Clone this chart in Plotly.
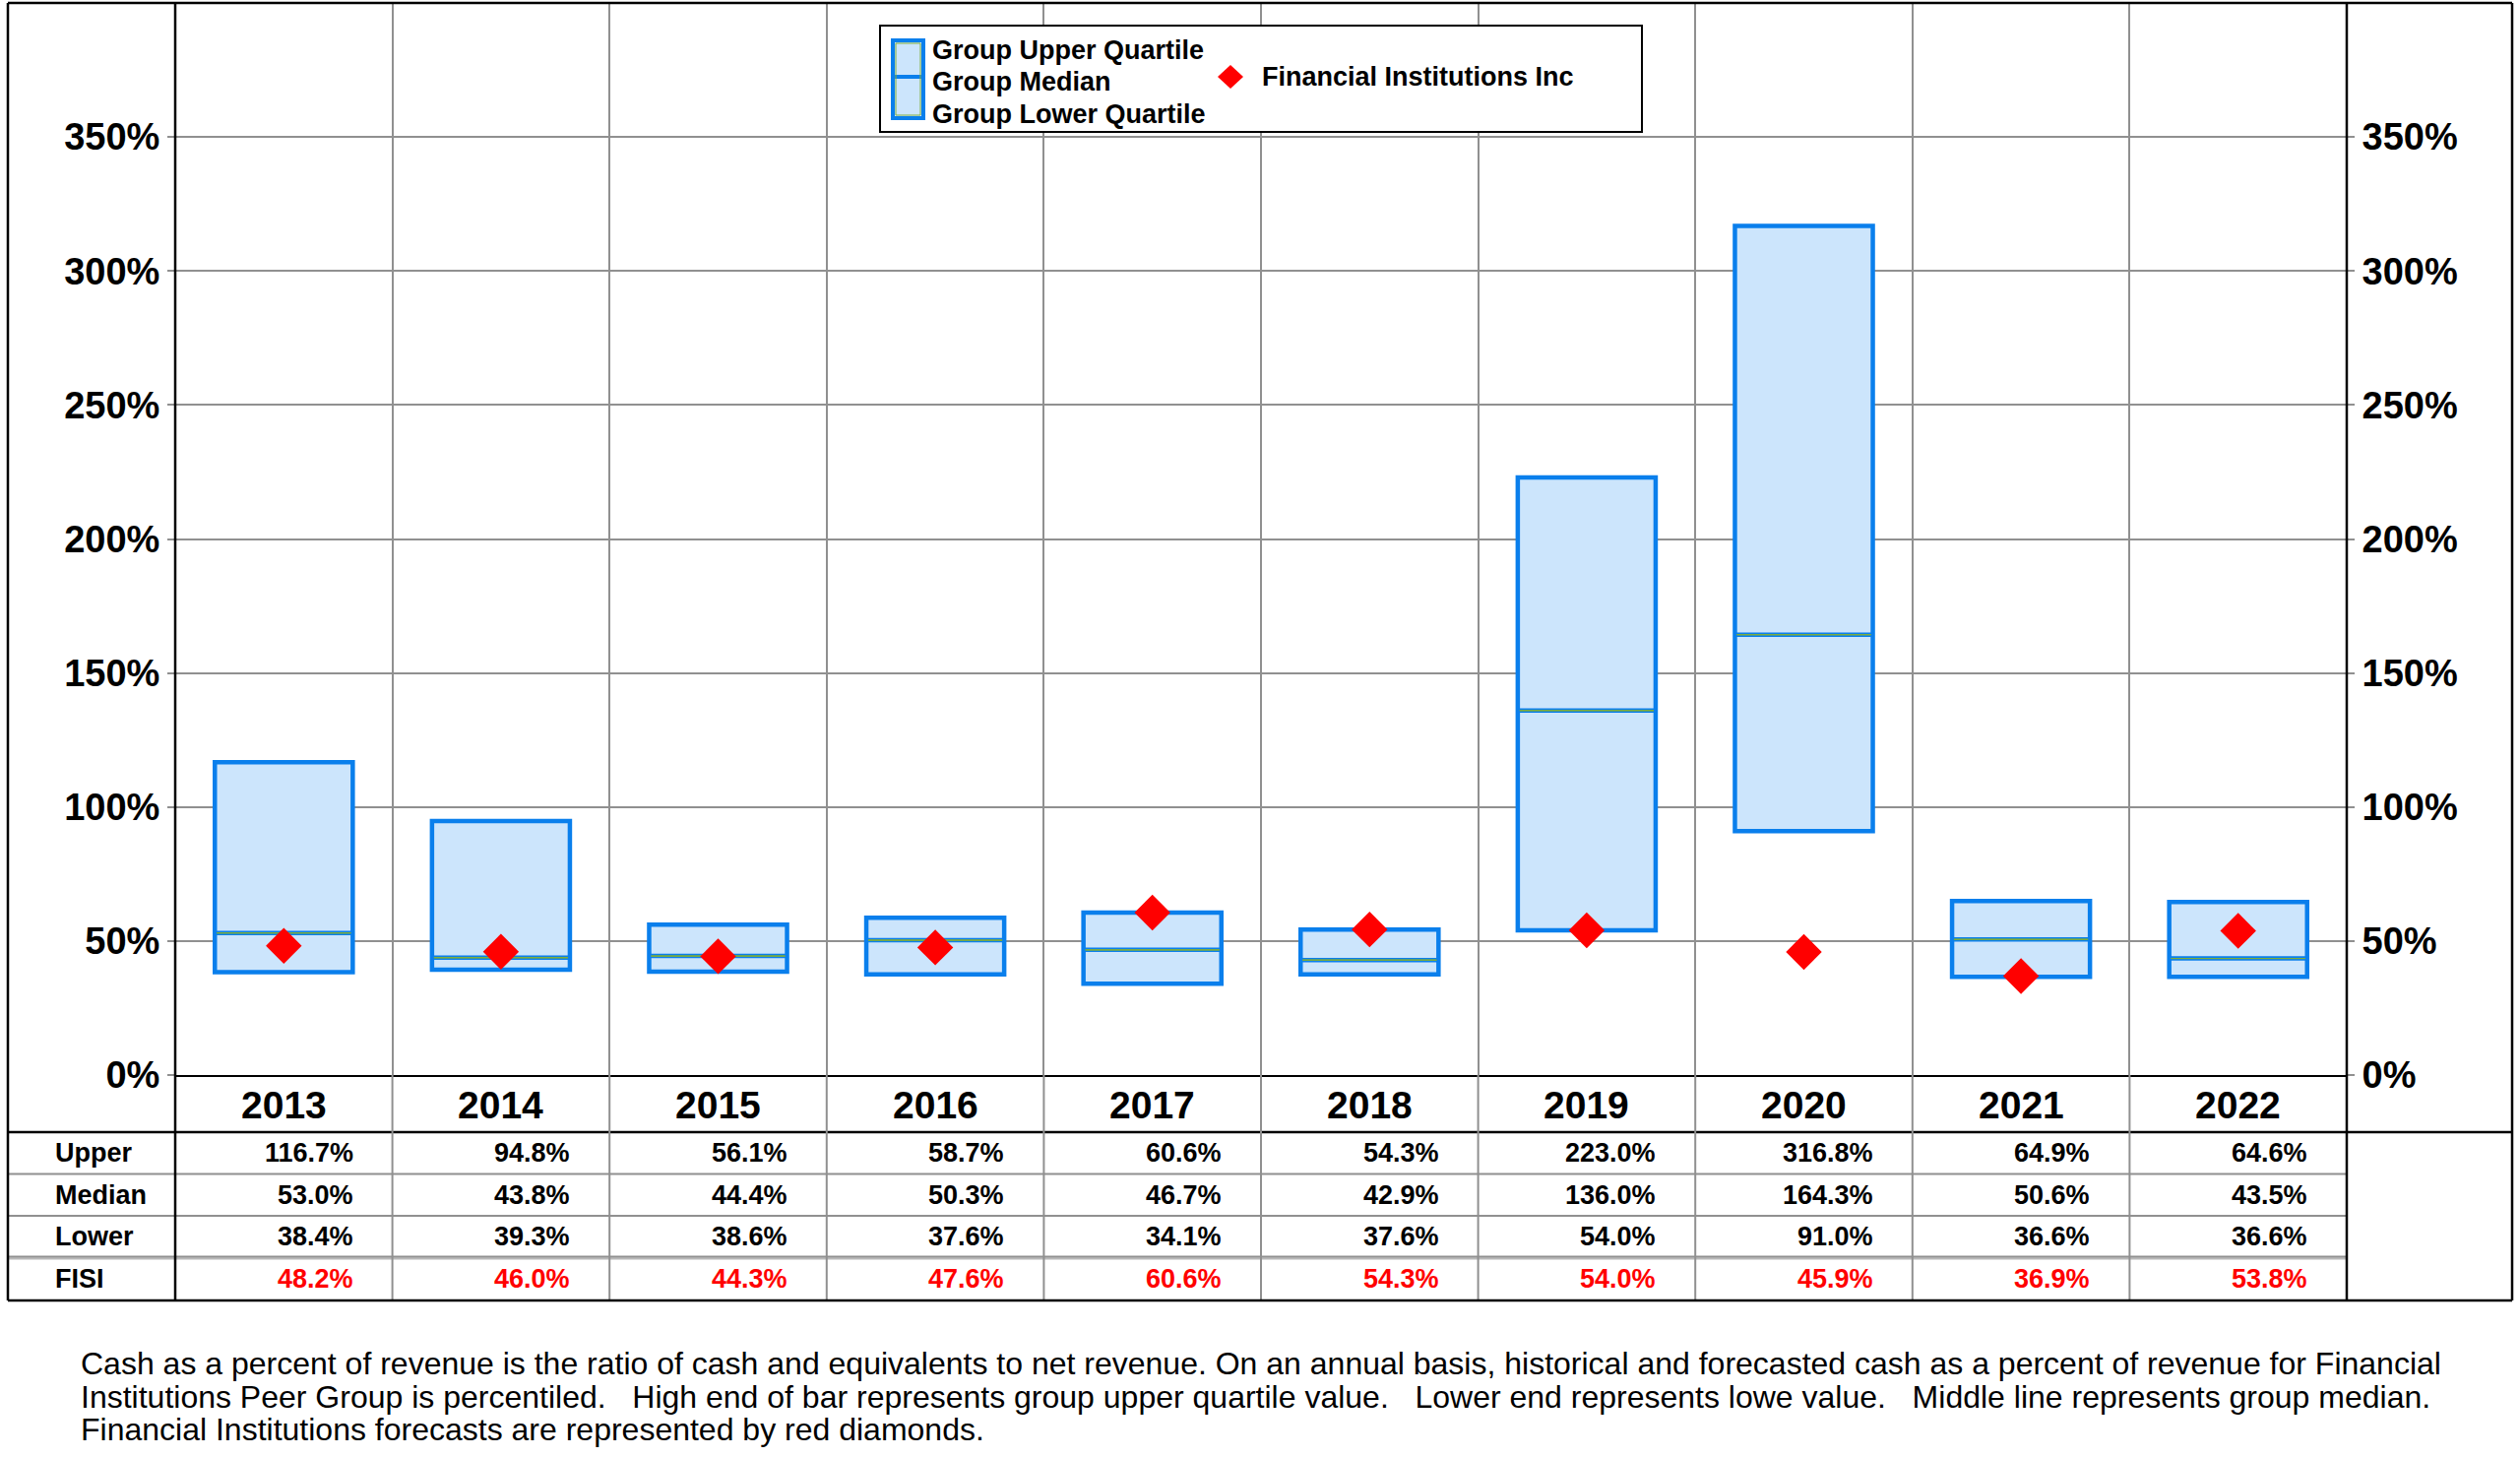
import plotly.graph_objects as go

# ---------------- data ----------------
years = ["2013", "2014", "2015", "2016", "2017", "2018", "2019", "2020", "2021", "2022"]
upper = [116.7, 94.8, 56.1, 58.7, 60.6, 54.3, 223.0, 316.8, 64.9, 64.6]
median = [53.0, 43.8, 44.4, 50.3, 46.7, 42.9, 136.0, 164.3, 50.6, 43.5]
lower = [38.4, 39.3, 38.6, 37.6, 34.1, 37.6, 54.0, 91.0, 36.6, 36.6]
fisi = [48.2, 46.0, 44.3, 47.6, 60.6, 54.3, 54.0, 45.9, 36.9, 53.8]
y_ticks = [0, 50, 100, 150, 200, 250, 300, 350]
y_tick_labels = ["0%", "50%", "100%", "150%", "200%", "250%", "300%", "350%"]
row_labels = ["Upper", "Median", "Lower", "FISI"]
legend_group_labels = ["Group Upper Quartile", "Group Median", "Group Lower Quartile"]
legend_company = "Financial Institutions Inc"
footnote_lines = [
    "Cash as a percent of revenue is the ratio of cash and equivalents to net revenue. On an annual basis, historical and forecasted cash as a percent of revenue for Financial",
    "Institutions Peer Group is percentiled.\u00a0\u00a0 High end of bar represents group upper quartile value.\u00a0\u00a0 Lower end represents lowe value.\u00a0\u00a0 Middle line represents group median.",
    "Financial Institutions forecasts are represented by red diamonds.",
]

# ---------------- geometry (pixels) ----------------
W, H = 2560, 1480
L, R, T, B = 178, 2384, 3, 1092
OUT_L, OUT_R = 8, 2552
HDR_BOT = 1150
ROW_EDGES = [1150, 1192.5, 1235, 1277.5, 1321]

FONT = "Liberation Sans, Arial, Helvetica, sans-serif"
BLUE = "#0a7fec"
FILL = "#cce5fc"
GREEN = "#7fae3a"
GRID = "#909090"


def px(x):
    return (x - L) / (R - L)


def py(y):
    return (B - y) / (B - T)


xs = list(range(len(years)))
col_px = (R - L) / len(years)

fig = go.Figure()

fig.add_trace(go.Box(
    x=xs, q1=lower, median=median, q3=upper,
    lowerfence=lower, upperfence=upper,
    width=0.635, whiskerwidth=0, boxpoints=False,
    fillcolor=FILL, line=dict(color=BLUE, width=4.5),
    showlegend=False, hoverinfo="skip",
))
# thin olive line running along each median
fig.add_trace(go.Box(
    x=xs, q1=median, median=median, q3=median,
    lowerfence=median, upperfence=median,
    width=0.635 - 4 / col_px, whiskerwidth=0, boxpoints=False,
    fillcolor="rgba(0,0,0,0)", line=dict(color=GREEN, width=1),
    showlegend=False, hoverinfo="skip",
))

fig.add_trace(go.Scatter(
    x=xs, y=fisi, mode="markers", yaxis="y2",
    marker=dict(symbol="diamond", size=28, color="#ff0000", line=dict(width=0)),
    showlegend=False, hoverinfo="skip",
))

axis_tick_font = dict(family=FONT, size=39, color="black", weight="bold")
y_tick_font = dict(family=FONT, size=38, color="black", weight="bold")

fig.update_layout(
    width=W, height=H,
    margin=dict(l=L, r=W - R, t=T, b=H - B, pad=0),
    paper_bgcolor="white", plot_bgcolor="white",
    showlegend=False, boxmode="overlay",
    xaxis=dict(
        range=[-0.5, len(years) - 0.5],
        tickvals=xs, ticktext=years, ticks="", showticklabels=False,
        showgrid=False, zeroline=False,
        showline=True, linecolor="black", linewidth=2,
        minor=dict(tickvals=[i - 0.5 for i in range(len(years) + 1)],
                   showgrid=True, gridcolor=GRID, gridwidth=2, ticks=""),
        fixedrange=True,
    ),
    yaxis=dict(
        range=[0, 400], tickvals=y_ticks, ticktext=y_tick_labels,
        ticks="outside", ticklen=7, tickwidth=2, tickcolor=GRID,
        tickfont=y_tick_font, ticklabelstandoff=0,
        showgrid=True, gridcolor=GRID, gridwidth=2,
        zeroline=False, showline=False, fixedrange=True,
    ),
    yaxis2=dict(
        overlaying="y", side="right", matches="y",
        range=[0, 400], tickvals=y_ticks, ticktext=y_tick_labels,
        ticks="outside", ticklen=7, tickwidth=2, tickcolor=GRID,
        tickfont=y_tick_font, ticklabelstandoff=0,
        showgrid=False, zeroline=False, showline=False, fixedrange=True,
    ),
)

shapes = []
# horizontal table lines
shapes.append(dict(type="line", xref="paper", yref="paper", x0=px(OUT_L), x1=px(OUT_R),
                   y0=py(HDR_BOT), y1=py(HDR_BOT), line=dict(color="black", width=2.5)))
for yy in ROW_EDGES[1:3]:
    shapes.append(dict(type="line", xref="paper", yref="paper", x0=px(OUT_L), x1=px(R),
                       y0=py(yy), y1=py(yy), line=dict(color=GRID, width=2)))
shapes.append(dict(type="line", xref="paper", yref="paper", x0=px(OUT_L), x1=px(R),
                   y0=py(ROW_EDGES[3]), y1=py(ROW_EDGES[3]), line=dict(color="#b8b8b8", width=4)))
shapes.append(dict(type="line", xref="paper", yref="paper", x0=px(OUT_L), x1=px(R),
                   y0=py(ROW_EDGES[3] - 1), y1=py(ROW_EDGES[3] - 1),
                   line=dict(color=GRID, width=1.5)))
# vertical column dividers in table
for i in range(len(years) - 1):
    shapes.append(dict(type="line", xref="x", yref="paper", x0=i + 0.5, x1=i + 0.5,
                       y0=py(B), y1=py(ROW_EDGES[-1]), line=dict(color=GRID, width=2)))
# heavy black frame lines
for xx in [OUT_L, L, R, OUT_R]:
    shapes.append(dict(type="line", xref="paper", yref="paper", x0=px(xx), x1=px(xx),
                       y0=py(T), y1=py(ROW_EDGES[-1]), line=dict(color="black", width=2.5)))
for yy in [T, ROW_EDGES[-1]]:
    shapes.append(dict(type="line", xref="paper", yref="paper", x0=px(OUT_L), x1=px(OUT_R),
                       y0=py(yy), y1=py(yy), line=dict(color="black", width=2.5)))

# legend frame
shapes.append(dict(type="rect", xref="paper", yref="paper", x0=px(894), x1=px(1668),
                   y0=py(26), y1=py(134), line=dict(color="black", width=2),
                   fillcolor="white"))
shapes.append(dict(type="rect", xref="paper", yref="paper", x0=px(907), x1=px(938),
                   y0=py(41), y1=py(78), line=dict(color=BLUE, width=4), fillcolor=FILL))
shapes.append(dict(type="rect", xref="paper", yref="paper", x0=px(907), x1=px(938),
                   y0=py(78), y1=py(120), line=dict(color=BLUE, width=4), fillcolor=FILL))
shapes.append(dict(type="rect", xref="paper", yref="paper", x0=px(910), x1=px(935),
                   y0=py(44), y1=py(117), line=dict(color=GREEN, width=1),
                   fillcolor="rgba(0,0,0,0)"))
cx, cy, hw, hh = 1250, 78, 13, 12
shapes.append(dict(type="path", xref="paper", yref="paper",
                   path=f"M {px(cx - hw)} {py(cy)} L {px(cx)} {py(cy - hh)} L {px(cx + hw)} {py(cy)} L {px(cx)} {py(cy + hh)} Z",
                   fillcolor="#ff0000", line=dict(width=0)))

annotations = []
lab_font = dict(family=FONT, size=27, color="black", weight="bold")
for yy, txt in zip([51, 83.5, 116], legend_group_labels):
    annotations.append(dict(x=px(945), y=py(yy), xref="paper", yref="paper", text=txt,
                            showarrow=False, xanchor="left", yanchor="middle", font=lab_font))
annotations.append(dict(x=px(1280), y=py(78), xref="paper", yref="paper", text=legend_company,
                        showarrow=False, xanchor="left", yanchor="middle", font=lab_font))

# year header row
for i, yr in enumerate(years):
    annotations.append(dict(x=i, y=py((B + HDR_BOT) / 2 + 1), xref="x", yref="paper", text=yr,
                            showarrow=False, xanchor="center", yanchor="middle",
                            font=axis_tick_font))

# table
table_rows = [upper, median, lower, fisi]
for r, (name, vals) in enumerate(zip(row_labels, table_rows)):
    yc = (ROW_EDGES[r] + ROW_EDGES[r + 1]) / 2
    annotations.append(dict(x=px(54), y=py(yc), xref="paper", yref="paper", text=name,
                            showarrow=False, xanchor="left", yanchor="middle", font=lab_font))
    color = "#ff0000" if name == "FISI" else "black"
    for i, v in enumerate(vals):
        annotations.append(dict(x=i + 0.5, xshift=-38, y=py(yc), xref="x", yref="paper",
                                text=f"{v:.1f}%", showarrow=False, xanchor="right",
                                yanchor="middle",
                                font=dict(family=FONT, size=27, color=color, weight="bold")))

# footnote
for yy, line in zip([1385, 1419, 1452], footnote_lines):
    annotations.append(dict(x=px(80), y=py(yy), xref="paper", yref="paper", text=line,
                            showarrow=False, xanchor="left", yanchor="middle",
                            font=dict(family=FONT, size=32, color="black")))

fig.update_layout(shapes=shapes, annotations=annotations)

fig.write_html("out.html", config={"displayModeBar": False},
               post_script="document.body.style.margin='0';document.body.style.padding='0';")
